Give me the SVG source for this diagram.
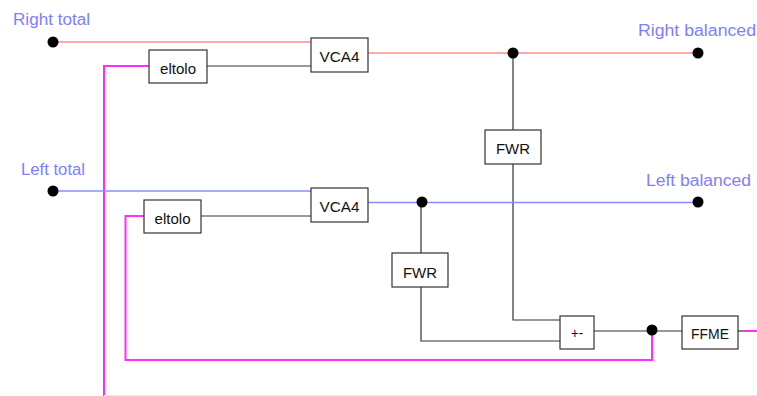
<svg xmlns="http://www.w3.org/2000/svg" width="757" height="396" viewBox="0 0 757 396">
<style>
.lbl{font-family:"Liberation Sans",Arial,sans-serif;font-size:16px;fill:#8080ff}
.box rect{fill:#fff;stroke:#333;stroke-width:1.2}
.box text{font-family:"Liberation Sans",Arial,sans-serif;font-size:14px;fill:#111;text-anchor:middle}
.blk{stroke:#333;stroke-width:1.2;fill:none}
.red{stroke:#ff8c8c;stroke-width:1.5;fill:none}
.blu{stroke:#8c8cff;stroke-width:1.5;fill:none}
.mag{stroke:#ff2bff;stroke-width:2;fill:none}
.dot{fill:#000}
</style>
<rect width="757" height="396" fill="#fff"/>
<g id="connectors">
<path class="mag" d="M149,66 H104 V396"/>
<line x1="104" y1="395.5" x2="757" y2="395.5" stroke="#ffd6ff" stroke-width="1"/>
<path class="red" d="M53,42 H311"/>
<path class="blk" d="M207,66 H311"/>
<path class="red" d="M368,53 H698"/>
<path class="blk" d="M513,53 V130 M513,164 V320 H560"/>
<path class="blu" d="M53,191 H311"/>
<path class="blk" d="M201,216 H311"/>
<path class="blu" d="M368,202.5 H698"/>
<path class="blk" d="M421,202 V253 M421,287 V341 H560"/>
<path class="blk" d="M594,331 H682"/>
<path class="mag" d="M652,330 V360 H125.5 V216 H144"/>
<path class="blk" d="M738,331 H743"/>
<path class="mag" d="M743,331 H757"/>
</g>
<g id="dot-right-total"><circle class="dot" cx="53" cy="42" r="5.5"/></g>
<g id="dot-left-total"><circle class="dot" cx="53" cy="191" r="5.5"/></g>
<g id="dot-right-junction"><circle class="dot" cx="513" cy="53" r="5.5"/></g>
<g id="dot-right-balanced"><circle class="dot" cx="698" cy="53" r="5.5"/></g>
<g id="dot-left-junction"><circle class="dot" cx="422" cy="202" r="5.5"/></g>
<g id="dot-left-balanced"><circle class="dot" cx="698" cy="202" r="5.5"/></g>
<g id="dot-out"><circle class="dot" cx="652" cy="330" r="5.5"/></g>
<g id="label-right-total"><text class="lbl" x="13" y="25" textLength="77" lengthAdjust="spacingAndGlyphs">Right total</text></g>
<g id="label-right-balanced"><text class="lbl" x="638" y="36" textLength="118" lengthAdjust="spacingAndGlyphs">Right balanced</text></g>
<g id="label-left-total"><text class="lbl" x="21" y="175" textLength="64" lengthAdjust="spacingAndGlyphs">Left total</text></g>
<g id="label-left-balanced"><text class="lbl" x="646" y="186" textLength="105" lengthAdjust="spacingAndGlyphs">Left balanced</text></g>
<g id="eltolo1" class="box"><rect x="149" y="50" width="58" height="33"/><text x="178" y="74" textLength="36" lengthAdjust="spacingAndGlyphs">eltolo</text></g>
<g id="vca4-1" class="box"><rect x="311" y="38" width="57" height="34"/><text x="339.5" y="62" textLength="40" lengthAdjust="spacingAndGlyphs">VCA4</text></g>
<g id="fwr1" class="box"><rect x="485" y="130" width="56" height="34"/><text x="513" y="154" textLength="34" lengthAdjust="spacingAndGlyphs">FWR</text></g>
<g id="eltolo2" class="box"><rect x="144" y="200" width="57" height="33"/><text x="172.5" y="224" textLength="36" lengthAdjust="spacingAndGlyphs">eltolo</text></g>
<g id="vca4-2" class="box"><rect x="311" y="188" width="57" height="34"/><text x="339.5" y="212" textLength="40" lengthAdjust="spacingAndGlyphs">VCA4</text></g>
<g id="fwr2" class="box"><rect x="392" y="253" width="56" height="34"/><text x="420" y="278" textLength="34" lengthAdjust="spacingAndGlyphs">FWR</text></g>
<g id="sum" class="box"><rect x="560" y="316" width="34" height="33"/><text x="577" y="338" textLength="12" lengthAdjust="spacingAndGlyphs">+-</text></g>
<g id="ffme" class="box"><rect x="682" y="316" width="56" height="33"/><text x="710" y="339" textLength="38" lengthAdjust="spacingAndGlyphs">FFME</text></g>
</svg>
